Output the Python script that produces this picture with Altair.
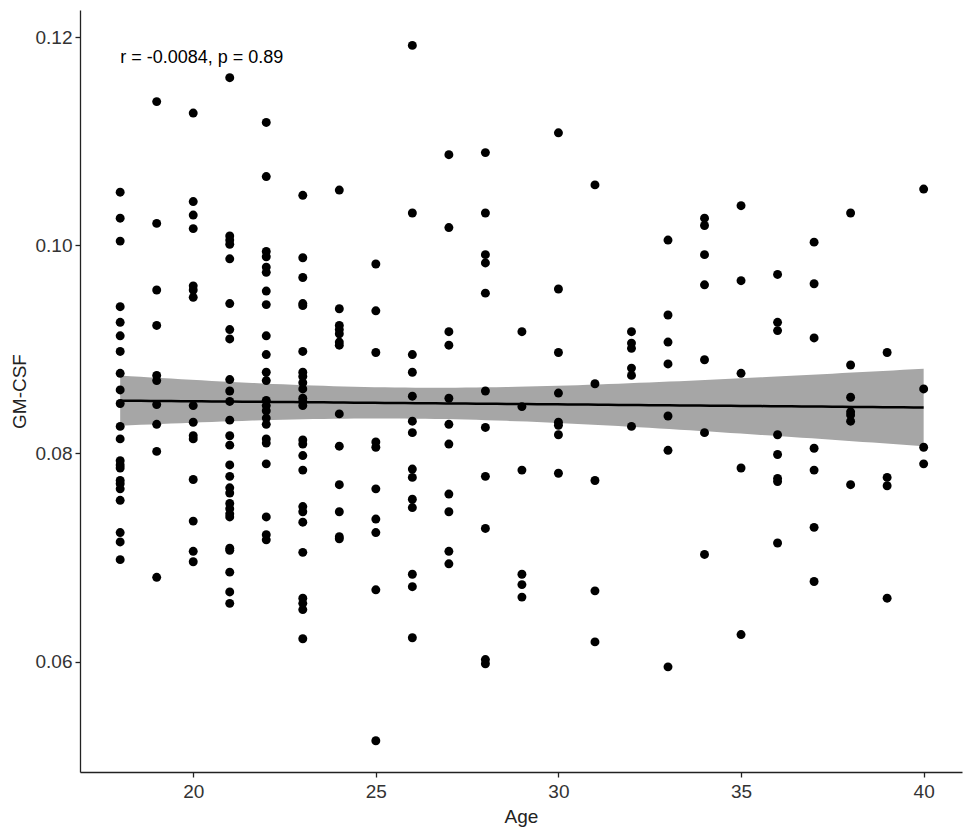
import altair as alt
import numpy as np
import pandas as pd

# ---- data (age -> GM-CSF values) ----
age18 = [0.1051, 0.1026, 0.1004, 0.0941, 0.0926, 0.0913, 0.0898, 0.0877, 0.0861, 0.0848, 0.0826, 0.0814,
         0.0793, 0.0789, 0.0786, 0.0774, 0.0771, 0.0766, 0.0755, 0.0724, 0.0715, 0.0698]
age19 = [0.1138, 0.1021, 0.0957, 0.0923, 0.0875, 0.0870, 0.0847, 0.0828, 0.0802, 0.0681]
age20 = [0.1127, 0.1042, 0.1029, 0.1016, 0.0961, 0.0957, 0.0950, 0.0846, 0.0830, 0.0817, 0.0814, 0.0775,
         0.0735, 0.0706, 0.0696]
age21 = [0.1161, 0.1009, 0.1005, 0.1001, 0.0987, 0.0944, 0.0919, 0.0910, 0.0871, 0.0860, 0.0850, 0.0832,
         0.0817, 0.0808, 0.0789, 0.0778, 0.0767, 0.0762, 0.0752, 0.0747, 0.0742, 0.0739, 0.0709, 0.0707,
         0.0686, 0.0667, 0.0656]
age22 = [0.1118, 0.1066, 0.0994, 0.0989, 0.0979, 0.0974, 0.0956, 0.0943, 0.0913, 0.0895, 0.0878, 0.0870,
         0.0851, 0.0846, 0.0841, 0.0834, 0.0828, 0.0814, 0.0810, 0.0790, 0.0739, 0.0722, 0.0717]
age23 = [0.1048, 0.0988, 0.0969, 0.0944, 0.0942, 0.0898, 0.0878, 0.0874, 0.0868, 0.0862, 0.0853, 0.0850,
         0.0846, 0.0813, 0.0809, 0.0798, 0.0784, 0.0749, 0.0744, 0.0734, 0.0705, 0.0661, 0.0656, 0.0650, 0.0622]
age24 = [0.1053, 0.0939, 0.0923, 0.0919, 0.0915, 0.0907, 0.0904, 0.0838, 0.0807, 0.0770, 0.0744, 0.0720, 0.0718]
age25 = [0.0982, 0.0937, 0.0897, 0.0811, 0.0806, 0.0766, 0.0737, 0.0724, 0.0669, 0.0524]
age26 = [0.1192, 0.1031, 0.0895, 0.0878, 0.0855, 0.0831, 0.0820, 0.0785, 0.0777, 0.0756, 0.0748, 0.0684,
         0.0672, 0.0623]
age27 = [0.1087, 0.1017, 0.0917, 0.0904, 0.0853, 0.0828, 0.0809, 0.0761, 0.0744, 0.0706, 0.0694]
age28 = [0.1089, 0.1031, 0.0991, 0.0983, 0.0954, 0.0860, 0.0825, 0.0778, 0.0728, 0.0602, 0.0598]
age29 = [0.0917, 0.0845, 0.0784, 0.0684, 0.0674, 0.0662]
age30 = [0.1108, 0.0958, 0.0897, 0.0858, 0.0830, 0.0827, 0.0818, 0.0781]
age31 = [0.1058, 0.0867, 0.0774, 0.0668, 0.0619]
age32 = [0.0917, 0.0906, 0.0901, 0.0882, 0.0875, 0.0826]
age33 = [0.1005, 0.0933, 0.0907, 0.0886, 0.0836, 0.0803, 0.0595]
age34 = [0.1026, 0.1019, 0.0991, 0.0962, 0.0890, 0.0820, 0.0703]
age35 = [0.1038, 0.0966, 0.0877, 0.0786, 0.0626]
age36 = [0.0972, 0.0926, 0.0918, 0.0818, 0.0799, 0.0776, 0.0773, 0.0714]
age37 = [0.1003, 0.0963, 0.0911, 0.0805, 0.0784, 0.0729, 0.0677]
age38 = [0.1031, 0.0885, 0.0854, 0.0840, 0.0837, 0.0831, 0.0770]
age39 = [0.0897, 0.0777, 0.0769, 0.0661]
age40 = [0.1054, 0.0862, 0.0806, 0.0790]

groups = {18: age18, 19: age19, 20: age20, 21: age21, 22: age22, 23: age23, 24: age24, 25: age25,
          26: age26, 27: age27, 28: age28, 29: age29, 30: age30, 31: age31, 32: age32, 33: age33,
          34: age34, 35: age35, 36: age36, 37: age37, 38: age38, 39: age39, 40: age40}

annotation = "r = -0.0084, p = 0.89"
x_ticks = [20, 25, 30, 35, 40]
y_ticks = [0.06, 0.08, 0.10, 0.12]

rows = [{"Age": a, "GM-CSF": v} for a, vals in groups.items() for v in vals]
df = pd.DataFrame(rows)

# ---- linear fit with 95% confidence band (computed from the data) ----
x = df["Age"].to_numpy(float)
y = df["GM-CSF"].to_numpy(float)
n = len(x)
b1, b0 = np.polyfit(x, y, 1)
resid = y - (b0 + b1 * x)
s = np.sqrt(np.sum(resid ** 2) / (n - 2))
xm = x.mean()
sxx = np.sum((x - xm) ** 2)
xs = np.linspace(x.min(), x.max(), 80)
fit = b0 + b1 * xs
se = s * np.sqrt(1.0 / n + (xs - xm) ** 2 / sxx)
t = 1.97
band = pd.DataFrame({"Age": xs, "fit": fit, "lo": fit - t * se, "hi": fit + t * se})

xscale = alt.Scale(domain=[16.9, 41.05], nice=False, zero=False)
yscale = alt.Scale(domain=[0.0494, 0.1226], nice=False, zero=False)

xaxis = alt.Axis(values=x_ticks, title="Age", grid=False, format="d")
yaxis = alt.Axis(values=y_ticks, title="GM-CSF", grid=False, format=".2f")

ribbon = alt.Chart(band).mark_area(color="#A6A6A6", opacity=1).encode(
    x=alt.X("Age:Q", scale=xscale, axis=xaxis),
    y=alt.Y("lo:Q", scale=yscale, axis=yaxis),
    y2="hi:Q",
)

points = alt.Chart(df).mark_circle(size=80, color="black", opacity=1).encode(
    x=alt.X("Age:Q", scale=xscale),
    y=alt.Y("GM-CSF:Q", scale=yscale),
)

line = alt.Chart(band).mark_line(color="black", strokeWidth=2.5).encode(
    x=alt.X("Age:Q", scale=xscale),
    y=alt.Y("fit:Q", scale=yscale),
)

label = alt.Chart(pd.DataFrame({"Age": [18.0], "y": [0.1180], "t": [annotation]})).mark_text(
    align="left", baseline="middle", fontSize=18, font="Liberation Sans", color="black"
).encode(
    x=alt.X("Age:Q", scale=xscale),
    y=alt.Y("y:Q", scale=yscale),
    text="t:N",
)

chart = alt.layer(ribbon, points, line, label).properties(
    width=882,
    height=762,
    autosize=alt.AutoSizeParams(type="none"),
    padding={"left": 72, "top": 2, "right": 4, "bottom": 55},
).configure_view(stroke=None).configure_axis(
    domainColor="#222222",
    domainWidth=1.3,
    tickColor="#222222",
    tickSize=5,
    tickWidth=1.3,
    labelFont="Liberation Sans",
    labelFontSize=19,
    labelColor="#333333",
    labelPadding=3,
    titleFont="Liberation Sans",
    titleFontSize=19,
    titleFontWeight="normal",
    titleColor="#222222",
).configure_axisY(titlePadding=6).configure_axisX(titlePadding=6, labelPadding=5)

chart.save("out.html", embed_options={"renderer": "svg", "actions": False})
